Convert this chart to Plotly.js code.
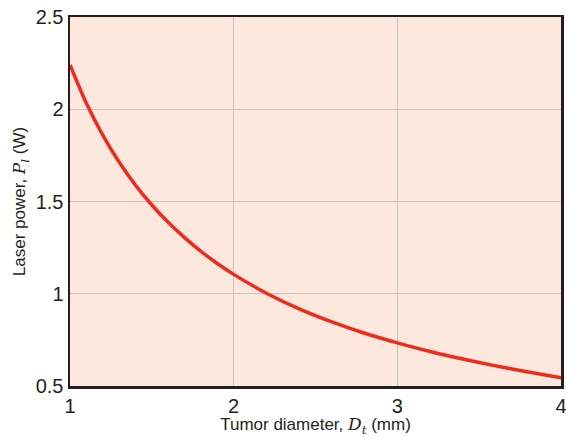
<!DOCTYPE html>
<html>
<head>
<meta charset="utf-8">
<script src="https://cdn.plot.ly/plotly-3.0.1.min.js"></script>
<style>html,body{margin:0;padding:0;background:#fff;}#chart{width:566px;height:437px;}</style>
</head>
<body>
<div id="chart"></div>
<script>
const diameter = [1.0, 1.1, 1.2, 1.3, 1.4, 1.5, 1.6, 1.7, 1.8, 1.9, 2.0, 2.2, 2.4, 2.6, 2.8, 3.0, 3.2, 3.4, 3.6, 3.8, 4.0];
const power = [2.24, 2.032, 1.86, 1.714, 1.589, 1.481, 1.387, 1.304, 1.23, 1.164, 1.105, 1.003, 0.918, 0.847, 0.786, 0.734, 0.687, 0.646, 0.609, 0.576, 0.545];
const xTicks = [1, 2, 3, 4];
const yTicks = [0.5, 1, 1.5, 2, 2.5];
const yTickLabels = ['0.5', '1', '1.5', '2', '2.5'];

const sans = 'Liberation Sans, Arial, sans-serif';
const serif = "font-family:DejaVu Serif";
const trace = {
  x: diameter, y: power, type: 'scatter', mode: 'lines',
  line: {color: '#ee2b1f', width: 3.5, shape: 'spline', smoothing: 0.6},
  hoverinfo: 'none'
};
const layout = {
  width: 566, height: 437,
  margin: {l: 70, r: 5, t: 17, b: 51},
  paper_bgcolor: '#ffffff', plot_bgcolor: '#fde8de',
  showlegend: false,
  font: {family: sans, color: '#231f20', size: 20},
  xaxis: {
    range: [1, 4], tickvals: xTicks, ticks: '', showgrid: true, gridcolor: '#c8c4c2', gridwidth: 1.2,
    zeroline: false, showline: true, mirror: true, linecolor: '#231f20', linewidth: 2.5,
    ticklabeloverflow: 'allow',
    tickfont: {size: 20, family: sans, color: '#231f20'},
    title: {text: 'Tumor diameter, <span style="' + serif + '"><i>D</i><sub><i>t</i></sub></span> (mm)', font: {size: 17, family: sans, color: '#231f20'}, standoff: 4}
  },
  yaxis: {
    range: [0.5, 2.5], tickvals: yTicks, ticktext: yTickLabels, ticks: '', showgrid: true, gridcolor: '#c8c4c2', gridwidth: 1.2,
    zeroline: false, showline: true, mirror: true, linecolor: '#231f20', linewidth: 2.5,
    ticklabeloverflow: 'allow',
    tickfont: {size: 20, family: sans, color: '#231f20'},
    title: {text: 'Laser power, <span style="' + serif + '"><i>P</i><sub><i>l</i></sub></span> (W)', font: {size: 17, family: sans, color: '#231f20'}, standoff: 6}
  }
};
Plotly.newPlot('chart', [trace], layout, {displayModeBar: false, staticPlot: true});
</script>
</body>
</html>
